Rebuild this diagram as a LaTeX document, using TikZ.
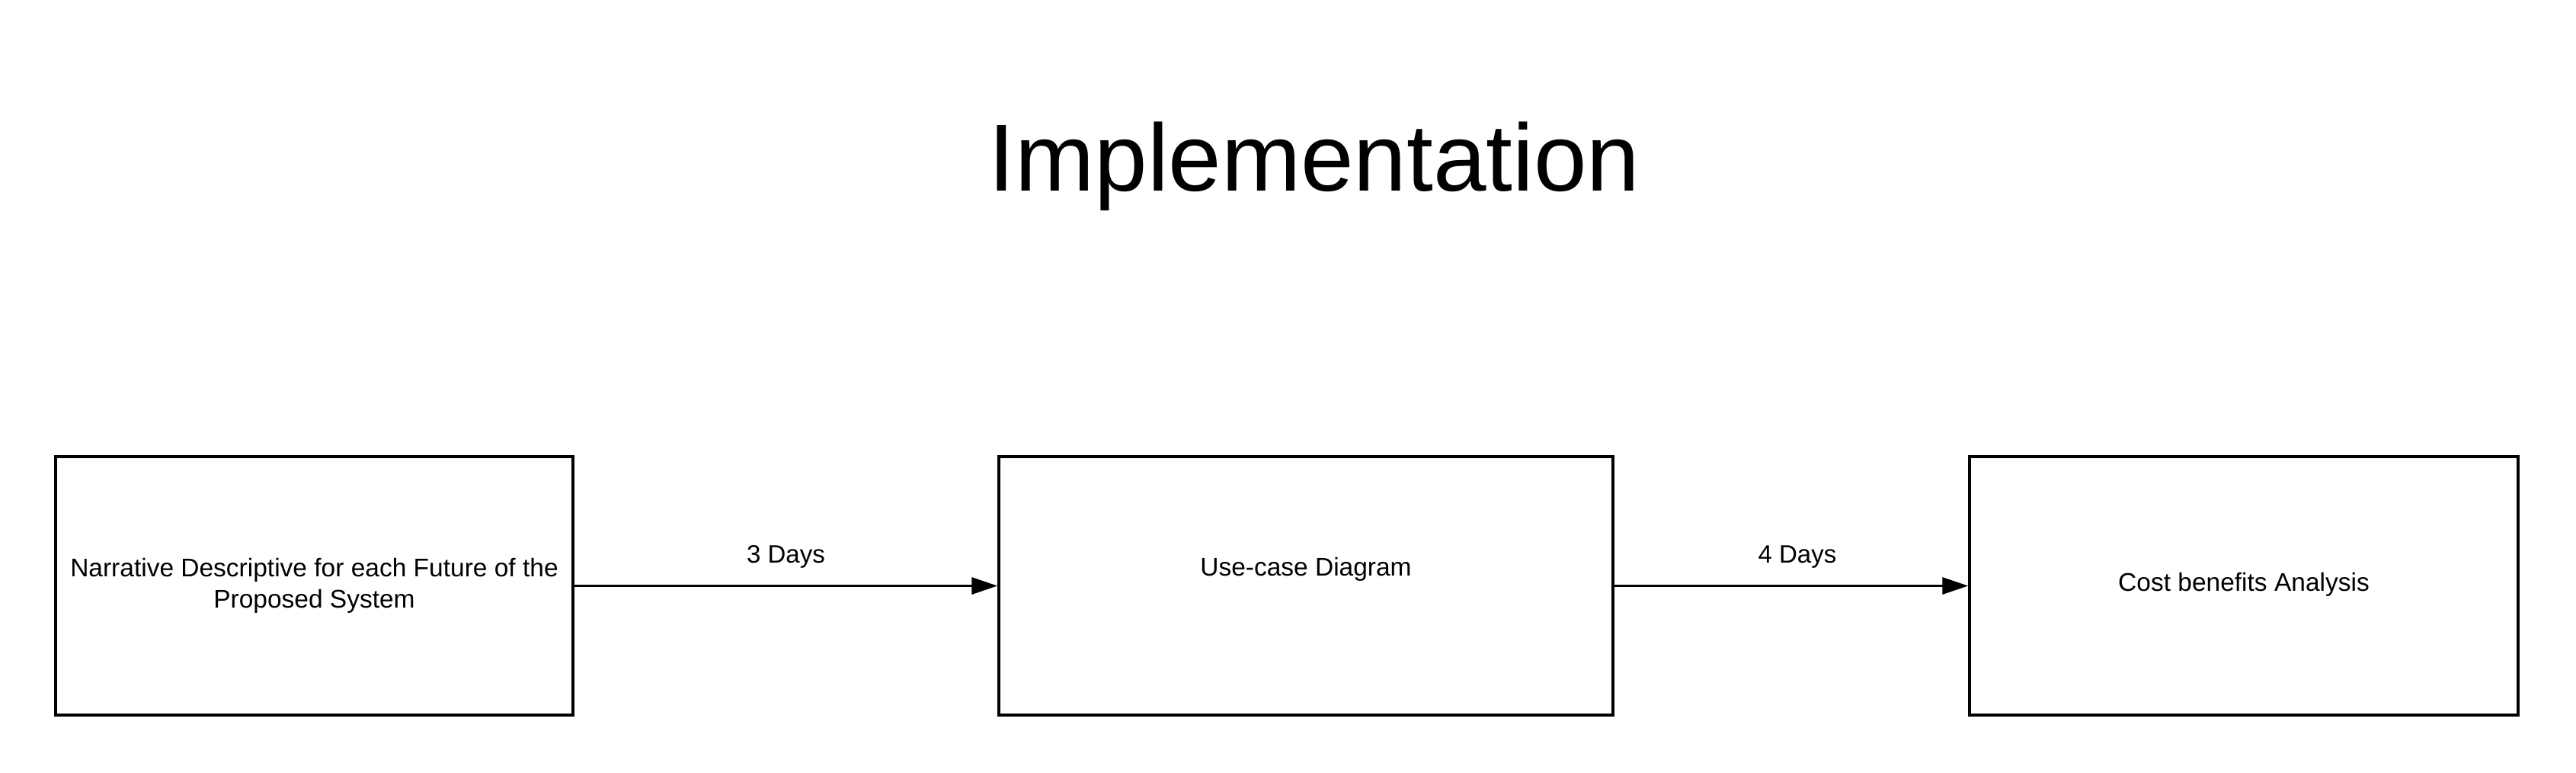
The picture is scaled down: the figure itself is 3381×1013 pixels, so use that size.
\documentclass[tikz,border=0pt]{standalone}
\usepackage{fontspec}
\setmainfont{Liberation Sans}
\usetikzlibrary{arrows.meta}
\begin{document}
\begin{tikzpicture}[x=1pt,y=-1pt,
  stagebox/.style={draw=black, line width=3.5pt, rectangle, inner sep=0pt, fill=white},
  boxtext/.style={font=\fontsize{33.5}{41}\selectfont, align=center, inner sep=0pt},
  conn/.style={draw=black, line width=3.5pt, -{Triangle[length=34pt,width=22pt]}},
  lbl/.style={font=\fontsize{33}{40}\selectfont, inner sep=0pt}
]
\useasboundingbox[fill=white] (0,0) rectangle (3381,1013);
\node[font=\fontsize{125}{134}\selectfont, anchor=base, inner sep=0pt] (title) at (1725,250) {Implementation};

\node[stagebox, minimum width=679pt, minimum height=339pt] (b1) at (412.5,768.5) {};
\node[stagebox, minimum width=806pt, minimum height=339pt] (b2) at (1714,768.5) {};
\node[stagebox, minimum width=720pt, minimum height=339pt] (b3) at (2945,768.5) {};

\node[boxtext] (b1t) at (b1.center) {Narrative Descriptive for each Future of the\\Proposed System};
\node[boxtext, anchor=base] (b2t) at (1714,755) {Use-case Diagram};
\node[boxtext, anchor=base] (b3t) at (2945,775) {Cost benefits Analysis};

\draw[conn] (b1.east) -- node[lbl, anchor=base, yshift=30pt] (l1) {3 Days} (b2.west);
\draw[conn] (b2.east) -- node[lbl, anchor=base, yshift=30pt, xshift=8pt] (l2) {4 Days} (b3.west);
\end{tikzpicture}
\end{document}
